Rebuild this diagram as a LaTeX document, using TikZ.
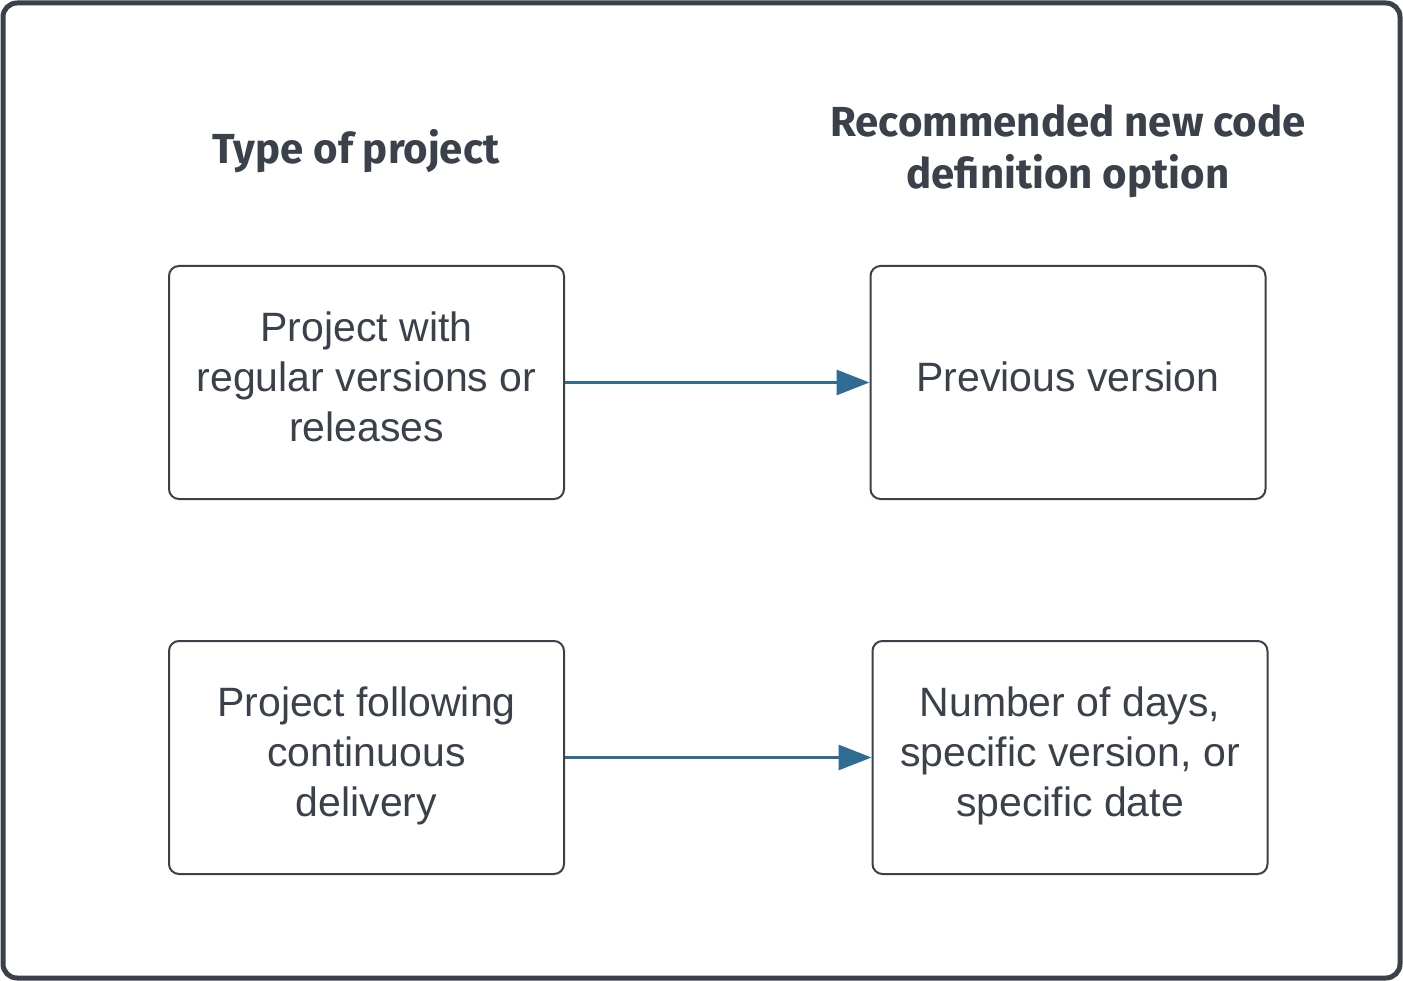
\documentclass[tikz,border=0pt]{standalone}
\usepackage{fontspec}
\setmainfont{Liberation Sans}
\newfontfamily\headfont{Fira Sans}
\usetikzlibrary{arrows.meta}
\definecolor{inkgray}{HTML}{3A414A}
\definecolor{linkblue}{HTML}{2F6B93}
\tikzset{
  optbox/.style={draw=inkgray, line width=2pt, rounded corners=10pt, minimum width=395pt,
    minimum height=233pt, align=center, text=inkgray,
    font=\fontsize{41}{50}\selectfont, inner sep=0pt,
    execute at end node={\rule[-12pt]{0pt}{12pt}}},
  heading/.style={align=center, text=inkgray, font=\headfont\bfseries\fontsize{42}{52}\selectfont},
  flow/.style={draw=linkblue, line width=3pt, -{Triangle[length=33pt,width=25pt]}}
}
\begin{document}
\begin{tikzpicture}[x=1pt,y=-1pt]

    \useasboundingbox (0,0) rectangle (1403,981);
    \draw [draw=inkgray, line width=5pt, rounded corners=14pt](3,3) rectangle (1400,978);

    %headings
    \node[heading] (typehead) at (356,151) {Type of project};
    \node[heading] (opthead) at (1068,151) {Recommended new code\\definition option};

    %boxes
    \node[optbox] (regular) at (366.5,382.5) {Project with\\regular versions or\\releases};
    \node[optbox] (previous) at (1068,382.5) {Previous version};
    \node[optbox] (continuous) at (366.5,757.5) {Project following\\continuous\\delivery};
    \node[optbox] (numdays) at (1070,757.5) {Number of days,\\specific version, or\\specific date};

    \draw[flow] (regular) -- (previous);
    \draw[flow] (continuous) -- (numdays);

\end{tikzpicture}
\end{document}
